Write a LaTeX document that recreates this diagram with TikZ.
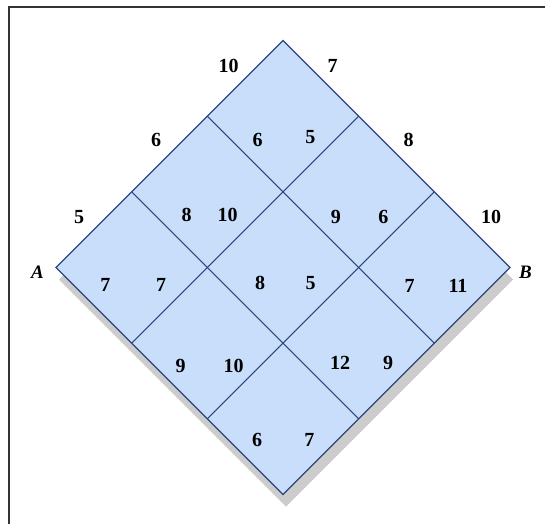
\documentclass[tikz,border=0pt]{standalone}
\usepackage{fontspec}
\setmainfont{Liberation Serif}
\usetikzlibrary{calc}
\definecolor{cellfill}{RGB}{200,222,250}
\definecolor{gridline}{RGB}{45,70,125}
\definecolor{shadowgray}{RGB}{204,204,204}
\tikzset{
  num/.style={font=\fontsize{20}{20}\selectfont\bfseries, inner sep=0pt},
  vlab/.style={font=\fontsize{19}{19}\selectfont\bfseries\itshape, inner sep=0pt},
  gridpen/.style={draw=gridline, line width=1.1pt}
}
\begin{document}
\begin{tikzpicture}[x=1pt,y=-1pt]
\useasboundingbox (0,0) rectangle (545,523);
\fill[white] (0,0) rectangle (545,523);
\draw[line width=1.6pt, draw=black!80] (9,524) -- (9,7) -- (546,7);
\coordinate (A) at (56,267.5);
\coordinate (T) at (283,40.5);
\coordinate (B) at (510,267.5);
\coordinate (D) at (283,494.5);
% shadow
\fill[shadowgray] ([shift={(3,12)}]A) -- ([shift={(3,12)}]T) -- ([shift={(3,12)}]B) -- ([shift={(3,12)}]D) -- cycle;
\fill[cellfill] (A) -- (T) -- (B) -- (D) -- cycle;
\foreach \k in {1,2} {
  \draw[gridpen] ($(A)!\k/3!(D)$) -- ($(T)!\k/3!(B)$);
  \draw[gridpen] ($(A)!\k/3!(T)$) -- ($(D)!\k/3!(B)$);
}
\draw[gridpen, line join=miter] (A) -- (T) -- (B) -- (D) -- cycle;
% vertex labels
\node[vlab] (la) at (37.5,272.5) {A};
\node[vlab] (lb) at (525.5,272.5) {B};
% outer labels
\node[num] (o1) at (228.7,65.7) {10};
\node[num] (o2) at (332.6,65.7) {7};
\node[num] (o3) at (156,140) {6};
\node[num] (o4) at (408.7,139.5) {8};
\node[num] (o5) at (79.2,216.7) {5};
\node[num] (o6) at (491,216.7) {10};
% inner labels
\node[num] (i1) at (257.6,139.5) {6};
\node[num] (i2) at (310.4,137) {5};
\node[num] (i3) at (186.7,215) {8};
\node[num] (i4) at (227.7,215) {10};
\node[num] (i5) at (335.8,217.3) {9};
\node[num] (i6) at (383.4,217.3) {6};
\node[num] (i7) at (105.3,285) {7};
\node[num] (i8) at (161,285) {7};
\node[num] (i9) at (260,283.3) {8};
\node[num] (i10) at (310.7,283.3) {5};
\node[num] (i11) at (409.5,285.7) {7};
\node[num] (i12) at (458,285.7) {11};
\node[num] (i13) at (180.7,365.7) {9};
\node[num] (i14) at (233.6,365.7) {10};
\node[num] (i15) at (340,363.3) {12};
\node[num] (i16) at (388,363.3) {9};
\node[num] (i17) at (257.2,440) {6};
\node[num] (i18) at (309.3,440) {7};
\end{tikzpicture}
\end{document}
